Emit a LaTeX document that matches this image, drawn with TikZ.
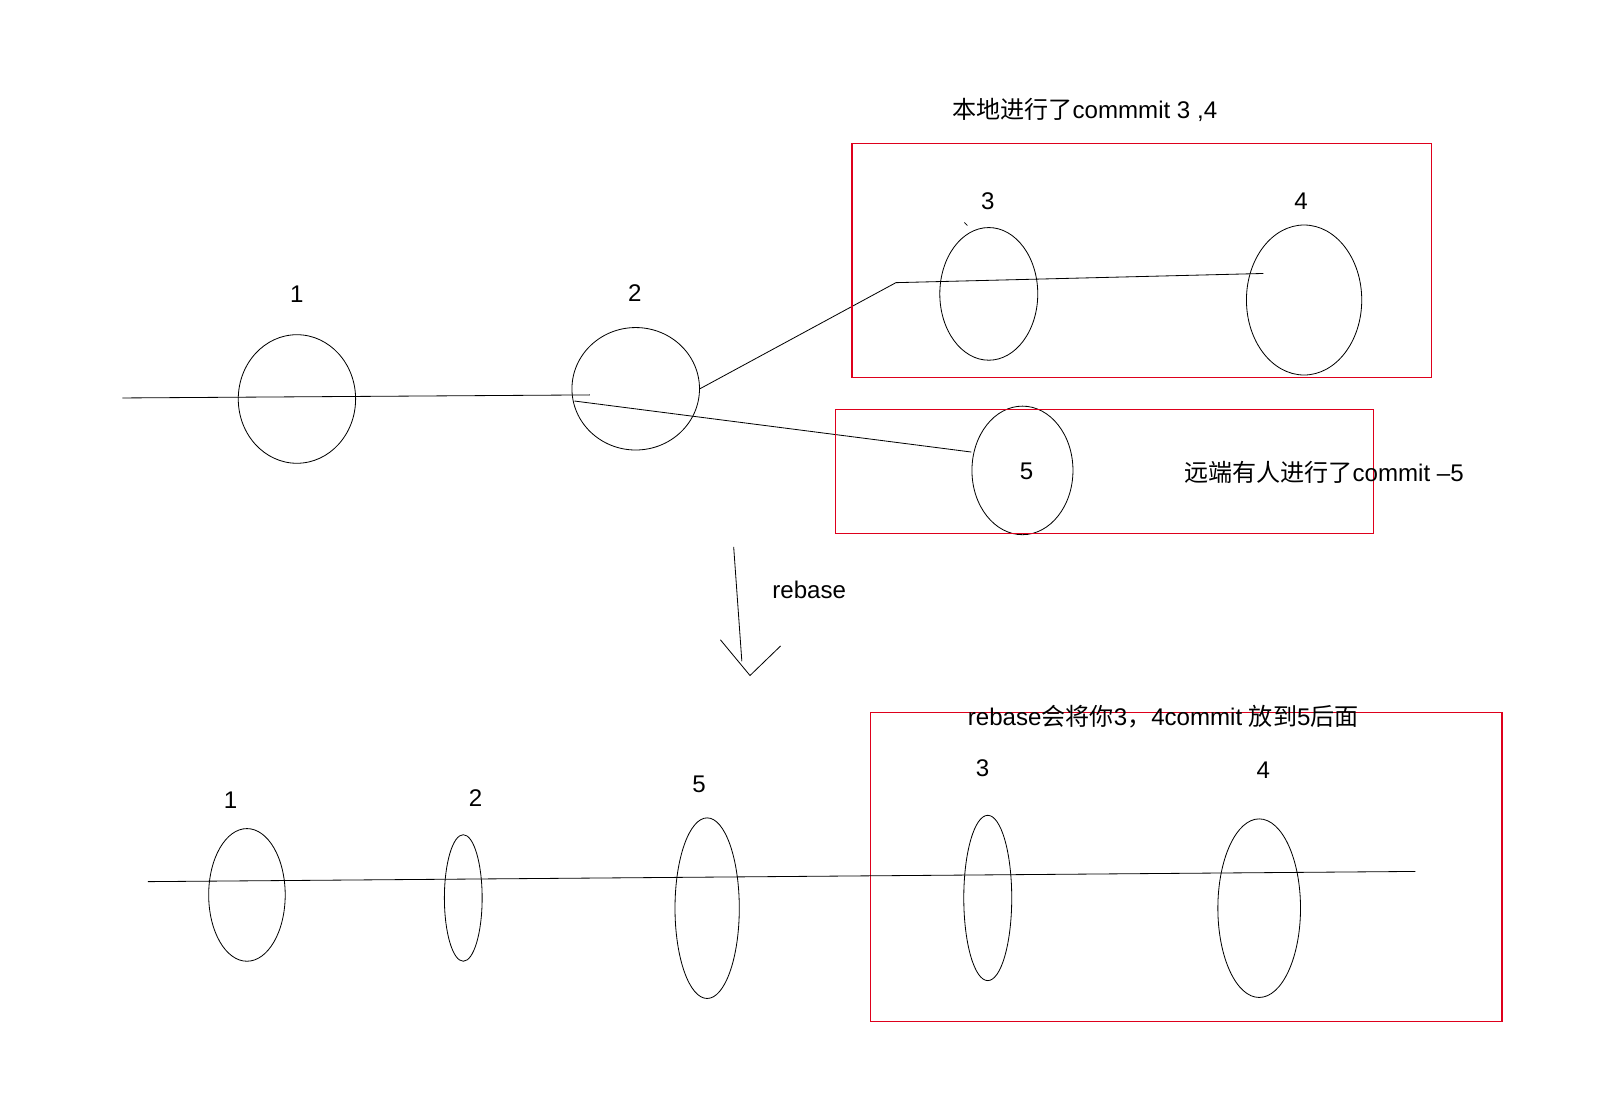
\documentclass[tikz,border=0pt]{standalone}
\usepackage{fontspec}
\setmainfont{Liberation Sans}
\newfontfamily\cjk{Noto Sans CJK SC}
\usetikzlibrary{shapes.geometric}
\definecolor{boxred}{RGB}{222,0,28}

\begin{document}
\begin{tikzpicture}[x=0.5pt, y=-0.5pt,
    commit/.style 2 args={draw, ellipse, inner sep=0pt, minimum width=#1*0.5pt, minimum height=#2*0.5pt},
    redbox/.style={draw=boxred, line width=0.6pt},
    txt/.style={font=\fontsize{11.8}{14}\selectfont, inner sep=0pt}]
  \useasboundingbox (0,0) rectangle (1568,1082);

  % before rebase
  \node[commit={115}{126}] (a1) at (291,391) {};
  \node[commit={125}{120}] (a2) at (623,381) {};
  \node[commit={96}{130}] (a3) at (969,288) {};
  \node[commit={113}{147}] (a4) at (1278,294) {};
  \node[commit={99}{126}] (a5) at (1002,461) {};

  \node[txt] (n1) at (291,288) {1};
  \node[txt] (n2) at (622,287) {2};
  \node[txt] (n3) at (968,197) {3};
  \node[txt] (n4) at (1275,197) {4};
  \node[txt] (n5) at (1006,462) {5};

  \coordinate (start) at (120,390);
  \coordinate (a2in) at (578,387);
  \coordinate (a2out) at (563,393);
  \coordinate (bend) at (878,277);
  \coordinate (a4in) at (1238,268);
  \coordinate (a5in) at (952,443);
  \draw (start) -- (a2in);
  \draw (a2.east) -- (bend) -- (a4in);
  \draw (a2out) -- (a5in);
  \draw (945,218) -- (948,221);

  \draw[redbox] (835,141) rectangle (1403,370);
  \draw[redbox] (819,401) rectangle (1346,523);
  \node[txt] (local) at (1063,108) {{\cjk 本地进行了}commmit 3 ,4};
  \node[txt, anchor=west] (remote) at (1160,463) {{\cjk 远端有人进行了}commit --5};

  % rebase arrow
  \coordinate (r0) at (719,536);
  \coordinate (r1) at (727,648);
  \coordinate (tipl) at (706,627);
  \coordinate (tip) at (735,662);
  \coordinate (tipr) at (765,633);
  \draw (r0) -- (r1);
  \draw (tipl) -- (tip) -- (tipr);
  \node[txt] (rb) at (793,578) {rebase};

  % after rebase
  \draw[redbox] (853,698) rectangle (1472,1001);
  \node[txt] (moved) at (1140,702) {rebase{\cjk 会将你}3{\cjk ，}4commit {\cjk 放到}5{\cjk 后面}};

  \node[commit={75}{130}] (b1) at (242,877) {};
  \node[commit={37}{124}] (b2) at (454,880) {};
  \node[commit={63}{177}] (b5) at (693,890) {};
  \node[commit={47}{162}] (b3) at (968,880) {};
  \node[commit={81}{175}] (b4) at (1234,890) {};

  \node[txt] (m1) at (226,784) {1};
  \node[txt] (m2) at (466,782) {2};
  \node[txt] (m5) at (685,769) {5};
  \node[txt] (m3) at (963,753) {3};
  \node[txt] (m4) at (1238,755) {4};

  \coordinate (bstart) at (145,864);
  \coordinate (bstop) at (1387,854);
  \draw (bstart) -- (bstop);
\end{tikzpicture}
\end{document}
